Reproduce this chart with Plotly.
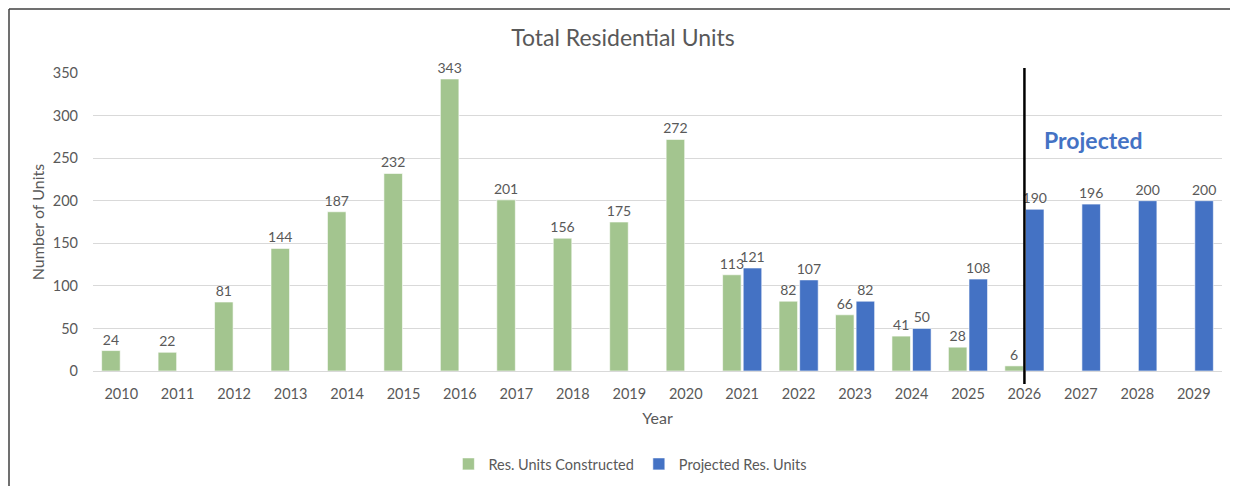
import plotly.graph_objects as go

years = [str(y) for y in range(2010, 2030)]
constructed = [24, 22, 81, 144, 187, 232, 343, 201, 156, 175, 272,
               113, 82, 66, 41, 28, 6, None, None, None]
projected = [None] * 11 + [121, 107, 82, 50, 108, 190, 196, 200, 200]

green = "#A3C58F"
blue = "#4472C4"
grey = "#595959"
font_family = "Lato, 'Open Sans', sans-serif"

fig = go.Figure()

fig.add_trace(
    go.Bar(
        x=years,
        y=constructed,
        name="Res. Units Constructed",
        marker=dict(color=green, line=dict(color="white", width=0.6)),
        text=constructed,
        textposition="outside",
        constraintext="none",
        textfont=dict(size=14, color=grey),
        cliponaxis=False,
    )
)

fig.add_trace(
    go.Bar(
        x=years,
        y=projected,
        name="Projected Res. Units",
        marker=dict(color=blue, line=dict(color="white", width=0.6)),
        text=projected,
        textposition="outside",
        constraintext="none",
        textfont=dict(size=14, color=grey),
        cliponaxis=False,
    )
)

# Divider between actual and projected years
split = years.index("2026")
fig.add_shape(
    type="line",
    xref="x",
    yref="paper",
    x0=split,
    x1=split,
    y0=-0.044,
    y1=1.017,
    line=dict(color="black", width=2.5),
)

# Outer chart border (left and top edges)
fig.add_shape(
    type="line", xref="paper", yref="paper",
    x0=-0.0744, x1=-0.0744, y0=-0.4, y1=1.2148,
    line=dict(color="#404040", width=1.5),
)
fig.add_shape(
    type="line", xref="paper", yref="paper",
    x0=-0.0744, x1=1.02, y0=1.2148, y1=1.2148,
    line=dict(color="#404040", width=1.5),
)

fig.add_annotation(
    x=split + 1.23,
    y=271,
    xref="x",
    yref="y",
    text="<b>Projected</b>",
    showarrow=False,
    font=dict(size=23, color=blue, family=font_family),
)

fig.update_layout(
    width=1230,
    height=478,
    margin=dict(l=85, r=16, t=65, b=115, autoexpand=False),
    paper_bgcolor="white",
    plot_bgcolor="white",
    font=dict(family=font_family, color=grey, size=14.5),
    title=dict(
        text="Total Residential Units",
        x=0.5,
        xanchor="center",
        y=0.937,
        yanchor="middle",
        font=dict(size=23, color=grey, family=font_family),
    ),
    barmode="group",
    bargap=0.27,
    bargroupgap=0.1,
    legend=dict(
        orientation="h",
        x=0.476,
        xanchor="center",
        y=-0.312,
        yanchor="middle",
        font=dict(size=14.5, color=grey),
        itemwidth=30,
    ),
    xaxis=dict(
        title=dict(text="Year", font=dict(size=16, color=grey), standoff=12),
        automargin=False,
        showgrid=False,
        showline=False,
        ticks="",
        ticklabelstandoff=12,
        tickfont=dict(size=14.5, color=grey),
    ),
    yaxis=dict(
        title=dict(text="Number of Units", font=dict(size=16, color=grey), standoff=4),
        automargin=False,
        range=[0, 350],
        dtick=50,
        showgrid=True,
        gridcolor="#D9D9D9",
        gridwidth=1,
        zeroline=True,
        zerolinecolor="#D9D9D9",
        zerolinewidth=1,
        showline=False,
        ticklabelstandoff=14,
        tickfont=dict(size=14.5, color=grey),
    ),
)

fig.write_html("out.html")
